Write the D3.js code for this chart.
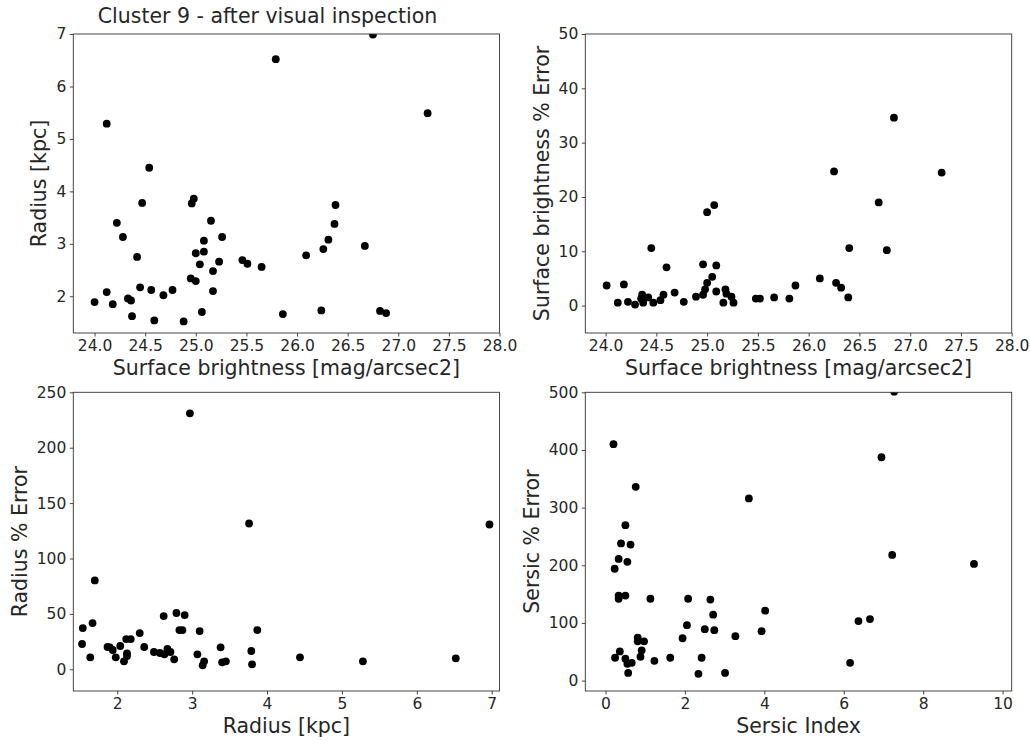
<!DOCTYPE html>
<html>
<head>
<meta charset="utf-8">
<script src="https://cdn.jsdelivr.net/npm/d3@7"></script>
<style>
  html, body { margin: 0; padding: 0; background: #fff; }
  svg { display: block; font-family: "DejaVu Sans", sans-serif; }
</style>
</head>
<body>
<svg id="fig" width="1030" height="740"></svg>
<script>
// Cluster 9 galaxies: surface brightness vs radius
const sbVsRadiusSB = [24.00, 24.12, 24.18, 24.22, 24.28, 24.33, 24.36, 24.37, 24.42, 24.45,
  24.47, 24.54, 24.56, 24.59, 24.68, 24.77, 24.88, 24.95, 24.96, 24.98,
  25.00, 25.00, 25.04, 25.06, 25.08, 25.08, 25.15, 25.17, 25.17, 25.23,
  25.26, 25.46, 25.51, 25.65, 25.79, 25.86, 26.09, 26.24, 26.26, 26.31,
  26.37, 26.38, 26.67, 26.75, 26.82, 26.88, 27.29, 24.12];
const sbVsRadiusR = [1.89, 2.08, 1.85, 3.40, 3.13, 1.96, 1.92, 1.62, 2.75, 2.17,
  3.78, 4.45, 2.12, 1.54, 2.02, 2.12, 1.52, 2.34, 3.77, 3.86,
  2.29, 2.82, 2.61, 1.70, 3.06, 2.85, 3.44, 2.48, 2.10, 2.66,
  3.13, 2.69, 2.62, 2.56, 6.52, 1.66, 2.78, 1.73, 2.90, 3.08,
  3.38, 3.74, 2.96, 6.99, 1.72, 1.68, 5.49, 5.29];

// Surface brightness vs its percentage error
const sbErrSB = [24.01, 24.12, 24.18, 24.22, 24.29, 24.36, 24.35, 24.37, 24.42, 24.45,
  24.47, 24.54, 24.57, 24.60, 24.68, 24.77, 24.89, 24.96, 24.96, 24.98,
  25.00, 25.00, 25.05, 25.07, 25.09, 25.09, 25.16, 25.18, 25.19, 25.24,
  25.26, 25.48, 25.52, 25.66, 25.81, 25.87, 26.11, 26.25, 26.27, 26.32,
  26.39, 26.40, 26.69, 26.77, 26.84, 27.31];
const sbErrPct = [3.7, 0.55, 3.9, 0.7, 0.2, 2.0, 1.3, 0.55, 1.5, 10.6,
  0.55, 1.0, 2.0, 7.05, 2.4, 0.7, 1.65, 7.6, 2.0, 3.0,
  17.2, 4.2, 5.3, 18.5, 7.4, 2.6, 0.55, 3.0, 2.2, 1.65,
  0.55, 1.3, 1.3, 1.5, 1.3, 3.7, 5.0, 24.7, 4.2, 3.3,
  1.5, 10.6, 19.0, 10.2, 34.6, 24.5];

// Radius vs its percentage error
const radiusKpc = [2.97, 3.76, 6.97, 1.54, 1.53, 1.67, 1.70, 1.64, 1.87, 1.90,
  1.94, 1.98, 2.04, 2.09, 2.12, 2.18, 2.13, 2.13, 2.30, 2.36,
  2.49, 2.57, 2.62, 2.63, 2.67, 2.71, 2.76, 2.79, 2.83, 2.87,
  2.90, 3.07, 3.10, 3.14, 3.16, 3.38, 3.40, 3.45, 3.79, 3.80,
  3.87, 4.44, 5.28, 6.52];
const radiusErrPct = [231, 131.6, 130.7, 37.2, 22.8, 41.7, 80.2, 10.8, 20.1, 19.8,
  17.4, 10.8, 21.0, 7.2, 27.3, 27.3, 14.4, 12.0, 32.7, 20.1,
  15.6, 14.7, 48.0, 13.5, 18.3, 15.6, 9.0, 50.8, 35.4, 35.4,
  48.9, 13.5, 34.5, 3.6, 7.2, 19.8, 6.3, 7.2, 16.5, 4.5,
  35.4, 10.8, 7.2, 9.9];

// Sersic index vs its percentage error
const sersicIndex = [0.20, 0.76, 0.50, 0.39, 0.63, 3.61, 6.95, 7.27, 0.33, 0.23,
  0.55, 0.33, 0.33, 0.50, 1.13, 2.08, 2.64, 2.71, 4.02, 2.05,
  2.50, 2.74, 1.94, 3.27, 3.93, 6.37, 6.66, 7.22, 9.28, 0.81,
  0.81, 0.97, 0.91, 0.88, 0.36, 0.24, 0.50, 0.55, 0.66, 0.57,
  1.23, 1.63, 2.42, 2.34, 3.01, 6.16];
const sersicErrPct = [410, 336, 269.5, 238, 236, 316, 387.4, 501, 211, 194,
  206, 147.5, 142, 147.5, 142, 142, 140.5, 114.3, 121.3, 96.2,
  89.2, 87.5, 73.5, 77, 85.7, 103.2, 106.7, 218, 202.3, 74.6,
  68.2, 68.2, 52.5, 41.4, 50.7, 39.7, 37.9, 29.2, 30.9, 13.4,
  34.4, 39.7, 39.7, 11.7, 13.4, 30.9];

// Tick values for each panel
const sbTicks = [24.0, 24.5, 25.0, 25.5, 26.0, 26.5, 27.0, 27.5, 28.0];
const radiusTicks = [2, 3, 4, 5, 6, 7];
const sbErrTicks = [0, 10, 20, 30, 40, 50];
const radiusErrTicks = [0, 50, 100, 150, 200, 250];
const sersicTicks = [0, 2, 4, 6, 8, 10];
const sersicErrTicks = [0, 100, 200, 300, 400, 500];

const titleText = "Cluster 9 - after visual inspection";

const svg = d3.select("#fig");
const textColor = "#262626";
const tickFont = "15.5px";
const labelFont = "20.5px";

const panels = [
  { box: [73.3, 499.5, 34, 333], xDom: [23.79, 28.0], yDom: [1.30, 7.0],
    xs: sbVsRadiusSB, ys: sbVsRadiusR, xt: sbTicks, yt: radiusTicks,
    xf: d3.format(".1f"), yf: d3.format("d"),
    xl: "Surface brightness [mag/arcsec2]", yl: "Radius [kpc]" },
  { box: [585.3, 1011.7, 34, 333], xDom: [23.80, 28.0], yDom: [-5.04, 50],
    xs: sbErrSB, ys: sbErrPct, xt: sbTicks, yt: sbErrTicks,
    xf: d3.format(".1f"), yf: d3.format("d"),
    xl: "Surface brightness [mag/arcsec2]", yl: "Surface brightness % Error" },
  { box: [73.3, 499.5, 392.3, 691], xDom: [1.413, 7.104], yDom: [-19.6, 250],
    xs: radiusKpc, ys: radiusErrPct, xt: radiusTicks, yt: radiusErrTicks,
    xf: d3.format("d"), yf: d3.format("d"),
    xl: "Radius [kpc]", yl: "Radius % Error" },
  { box: [585.3, 1011.7, 392.3, 691], xDom: [-0.51, 10.23], yDom: [-18, 500],
    xs: sersicIndex, ys: sersicErrPct, xt: sersicTicks, yt: sersicErrTicks,
    xf: d3.format("d"), yf: d3.format("d"),
    xl: "Sersic Index", yl: "Sersic % Error" }
];

panels.forEach((p, i) => {
  const [l, r, t, b] = p.box;
  const x = d3.scaleLinear().domain(p.xDom).range([l, r]);
  const y = d3.scaleLinear().domain(p.yDom).range([b, t]);
  const g = svg.append("g");

  const clipId = "clip" + i;
  svg.append("clipPath").attr("id", clipId)
    .append("rect").attr("x", l).attr("y", t).attr("width", r - l).attr("height", b - t);

  // scatter points
  g.append("g").attr("clip-path", `url(#${clipId})`)
    .selectAll("circle")
    .data(d3.range(p.xs.length))
    .join("circle")
    .attr("cx", k => x(p.xs[k]))
    .attr("cy", k => y(p.ys[k]))
    .attr("r", 3.9)
    .attr("fill", "#000");

  // axes
  const xAxis = g.append("g").attr("transform", `translate(0,${b})`)
    .call(d3.axisBottom(x).tickValues(p.xt).tickFormat(p.xf).tickSize(3.5).tickPadding(3.5));
  const yAxis = g.append("g").attr("transform", `translate(${l},0)`)
    .call(d3.axisLeft(y).tickValues(p.yt).tickFormat(p.yf).tickSize(3.5).tickPadding(3.5));
  [xAxis, yAxis].forEach(a => {
    a.select(".domain").remove();
    a.selectAll(".tick line").attr("stroke", "#333").attr("stroke-width", 0.9);
    a.selectAll(".tick text").attr("fill", textColor)
      .style("font-size", tickFont).style("font-family", "DejaVu Sans");
  });

  // frame
  g.append("rect").attr("x", l).attr("y", t).attr("width", r - l).attr("height", b - t)
    .attr("fill", "none").attr("stroke", "#333").attr("stroke-width", 0.9);

  // x label
  g.append("text").attr("x", (l + r) / 2).attr("y", b + 41.5)
    .attr("text-anchor", "middle").attr("fill", textColor)
    .style("font-size", labelFont).text(p.xl);

  // y label, placed left of the widest tick label
  let minX = l;
  yAxis.selectAll(".tick text").each(function () {
    const bb = this.getBBox();
    minX = Math.min(minX, l + bb.x);
  });
  const ly = minX - 10;
  g.append("text")
    .attr("transform", `translate(${ly},${(t + b) / 2}) rotate(-90)`)
    .attr("text-anchor", "middle").attr("fill", textColor)
    .style("font-size", labelFont).text(p.yl);
});

svg.append("text").attr("x", 267.5).attr("y", 23)
  .attr("text-anchor", "middle").attr("fill", textColor)
  .style("font-size", labelFont).text(titleText);
</script>
</body>
</html>
